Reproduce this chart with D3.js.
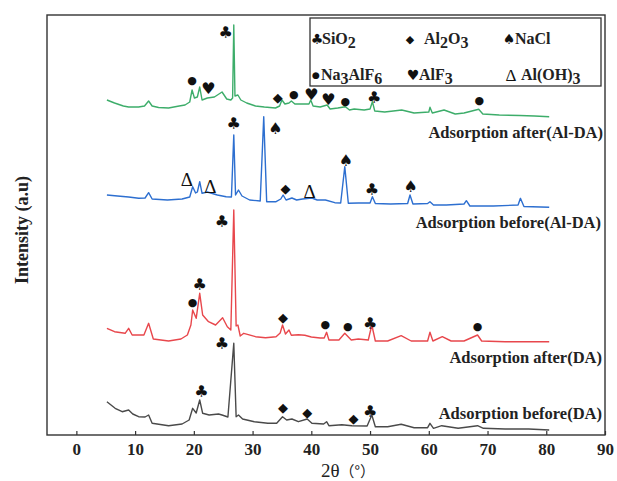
<!DOCTYPE html>
<html>
<head>
<meta charset="utf-8">
<script src="https://cdn.jsdelivr.net/npm/d3@7/dist/d3.min.js"></script>
<style>
  body { margin: 0; background: #fff; }
  svg text { font-family: "Liberation Serif", "Times New Roman", serif; }
</style>
</head>
<body>
<div id="chart"></div>
<script>
// 2theta, intensity (a.u., stacked offsets)
var greenData = [
  [5.2, 335], [6.5, 332], [8.0, 329], [8.9, 328], [10.6, 328], [11.6, 329], [12.3, 334], [12.9, 329],
  [14.0, 327.5], [15.7, 327], [17.5, 329], [18.5, 330], [19.3, 333], [19.7, 345], [20.1, 337], [20.6, 338],
  [21.0, 348], [21.4, 335], [22.3, 337], [23.5, 338], [24.8, 343], [25.6, 336], [26.3, 335], [26.6, 337],
  [26.8, 410], [27.0, 339], [27.5, 340], [28.0, 335], [29.0, 332], [30.5, 329], [32.0, 328], [33.9, 327],
  [34.6, 329], [35.0, 335], [35.5, 331], [36.2, 332], [36.6, 334], [37.2, 331], [38.4, 331], [39.6, 331],
  [39.9, 335], [40.3, 329], [41.5, 328], [42.7, 330], [43.2, 326], [44.5, 327], [45.8, 328.3], [46.5, 325],
  [47.3, 326], [49.0, 325], [50.0, 326], [50.4, 333.3], [50.8, 324], [52.5, 323], [55.4, 325], [57.5, 322],
  [60.0, 323], [60.2, 327.7], [60.6, 322], [62.6, 325], [64.5, 321], [66.0, 322], [68.5, 325.7], [69.2, 321],
  [72.0, 320], [75.5, 319.5], [78.0, 319], [80.5, 318.3]
];
var blueData = [
  [5.2, 240], [7.0, 239], [8.9, 238], [10.6, 236.7], [11.7, 237], [12.3, 242.3], [12.9, 236], [15.5, 235],
  [18.0, 236], [19.3, 238], [19.8, 248.3], [20.3, 242], [20.6, 243], [21.0, 253.3], [21.4, 241.7], [22.3, 243],
  [24.0, 240], [25.5, 238.3], [26.4, 238], [26.8, 300], [27.1, 240], [27.6, 245], [28.2, 239], [29.5, 235],
  [31.3, 234], [31.9, 318.3], [32.4, 233.3], [34.0, 233.3], [34.8, 236], [35.2, 240], [35.7, 235], [36.7, 237],
  [37.5, 235], [38.5, 236], [40.1, 237], [41.0, 235], [42.4, 235], [44.0, 232.3], [45.0, 232], [45.7, 268.3],
  [46.3, 231.7], [48.0, 232], [50.0, 232], [50.4, 238.3], [50.9, 231.5], [53.5, 231], [56.4, 231.5], [56.8, 240],
  [57.3, 231], [59.8, 231.5], [60.2, 233.3], [60.8, 230], [63.0, 230], [66.0, 231], [66.4, 234.3], [67.0, 229],
  [71.0, 229], [75.2, 230], [75.6, 236.7], [76.2, 228.5], [80.5, 227.7]
];
var redData = [
  [5.2, 106.7], [6.5, 103.3], [8.3, 101.7], [8.9, 106.7], [9.5, 100], [11.5, 100], [12.3, 111.7], [13.1, 96],
  [15.7, 94], [17.8, 96], [18.9, 100], [19.5, 110], [19.8, 125], [20.4, 116.7], [21.0, 141.7], [21.5, 120],
  [22.5, 113.3], [23.7, 110], [24.9, 117.3], [25.7, 108.3], [26.3, 105], [26.8, 225], [27.2, 109], [27.5, 110],
  [27.9, 99], [28.5, 101.7], [30.5, 98.3], [32.2, 97.3], [34.0, 98.3], [34.7, 102], [35.1, 110], [35.6, 101],
  [36.2, 105], [36.6, 99.7], [37.8, 100.3], [38.9, 99.7], [40.0, 98], [41.5, 97], [42.2, 97], [42.6, 102.7],
  [43.0, 95], [44.7, 95], [45.7, 101.7], [46.8, 95], [48.0, 96], [49.7, 95], [50.3, 110], [50.9, 94],
  [53.0, 94], [55.3, 99.3], [57.0, 94], [59.8, 94], [60.2, 102.7], [60.7, 94], [62.3, 98.3], [63.8, 94],
  [66.0, 94], [68.3, 100], [69.0, 94], [73.0, 93.3], [77.0, 93.3], [80.5, 93.3]
];
var blackData = [
  [5.2, 33.3], [6.6, 26.7], [7.8, 23.3], [8.9, 25], [9.6, 21], [10.6, 18.3], [11.7, 18], [12.3, 20],
  [12.9, 11.7], [15.7, 9.3], [18.0, 11], [19.2, 15], [19.8, 26.7], [20.4, 22], [21.0, 35], [21.5, 21.7],
  [22.6, 20], [24.2, 21], [24.8, 20], [25.8, 18], [26.8, 91.7], [27.2, 18.3], [27.6, 20], [28.3, 16],
  [30.3, 13.3], [32.6, 11.7], [34.1, 11.7], [35.1, 18.3], [35.8, 15], [36.7, 16], [37.8, 13.3], [39.3, 16],
  [40.1, 11.7], [42.1, 11], [42.6, 13.3], [43.0, 9.3], [45.2, 10.3], [46.9, 9.3], [49.5, 9], [50.3, 20],
  [50.9, 8.3], [53.0, 8.3], [55.3, 10.7], [57.5, 7.3], [59.8, 7.3], [60.2, 11.7], [60.8, 6.7], [62.2, 9.3],
  [65.0, 6.7], [68.3, 9.3], [69.3, 6.7], [73.0, 6], [77.0, 6], [80.5, 5]
];

// phase marks: symbol, 2theta, intensity
var greenMarks = [
  ["dot", 19.7, 355], ["heart", 22.5, 346.7], ["club", 25.4, 402.3], ["diamond", 34.3, 337.7],
  ["dot", 37.0, 341], ["heart", 40.0, 341], ["heart", 42.9, 335.7], ["dot", 45.8, 333.3],
  ["club", 50.7, 337.7], ["dot", 68.6, 335]
];
var blueMarks = [
  ["delta", 18.8, 255.7], ["delta", 22.8, 248.3], ["club", 26.8, 311.7], ["spade", 33.9, 306.7],
  ["diamond", 35.6, 246.7], ["delta", 39.7, 243.3], ["spade", 45.9, 274.3], ["club", 50.3, 245.7],
  ["spade", 56.9, 248.3]
];
var redMarks = [
  ["club", 24.8, 213.3], ["club", 21.0, 150.7], ["dot", 19.8, 132.7], ["diamond", 35.2, 117.3],
  ["dot", 42.4, 110.7], ["dot", 46.2, 109], ["club", 50.0, 111.7], ["dot", 68.3, 108.3]
];
var blackMarks = [
  ["club", 24.8, 91.7], ["club", 21.3, 43.3], ["diamond", 35.2, 27.3], ["diamond", 39.3, 22.7],
  ["diamond", 47.2, 16.7], ["club", 50.0, 24]
];

var seriesNames = ["Adsorption after(Al-DA)", "Adsorption before(Al-DA)", "Adsorption after(DA)", "Adsorption before(DA)"];
var seriesColors = ["#3dad6a", "#2d6fd0", "#e8474c", "#4a4a4a"];
var xTicks = [0, 10, 20, 30, 40, 50, 60, 70, 80, 90];

var W = 617, H = 481;
var margin = {top: 15, right: 12, bottom: 46, left: 47};

var svg = d3.select("#chart").append("svg")
    .attr("width", W)
    .attr("height", H);

var x = d3.scaleLinear().domain([-5, 90]).range([margin.left, W - margin.right]);
var y = d3.scaleLinear().domain([0, 420]).range([H - margin.bottom, margin.top]);

var line = d3.line()
    .x(function (d) { return x(d[0]); })
    .y(function (d) { return y(d[1]); });

var glyphs = {
  club: {t: "\u2663", size: 16, font: "DejaVu Sans"},
  spade: {t: "\u2660", size: 16, font: "DejaVu Sans"},
  heart: {t: "\u2665", size: 16, font: "DejaVu Sans"},
  diamond: {t: "\u25C6", size: 13, font: "DejaVu Sans"},
  dot: {t: "\u25CF", size: 11, font: "DejaVu Sans"},
  delta: {t: "\u0394", size: 19, font: "Liberation Serif"}
};

var allData = [greenData, blueData, redData, blackData];
var allMarks = [greenMarks, blueMarks, redMarks, blackMarks];

allData.forEach(function (data, i) {
  svg.append("path")
      .datum(data)
      .attr("fill", "none")
      .attr("stroke", seriesColors[i])
      .attr("stroke-width", 1.4)
      .attr("stroke-linejoin", "round")
      .attr("d", line);
});

allMarks.forEach(function (marks) {
  svg.append("g").selectAll("text")
      .data(marks)
      .enter().append("text")
      .attr("x", function (d) { return x(d[1]); })
      .attr("y", function (d) { return y(d[2]); })
      .attr("text-anchor", "middle")
      .attr("dominant-baseline", "central")
      .style("font-family", function (d) { return glyphs[d[0]].font; })
      .style("font-size", function (d) { return glyphs[d[0]].size + "px"; })
      .attr("fill", "#111")
      .text(function (d) { return glyphs[d[0]].t; });
});

// curve labels
var labelPos = [[603, 138], [601, 228], [602, 363], [602, 419]];
seriesNames.forEach(function (name, i) {
  svg.append("text")
      .attr("x", labelPos[i][0])
      .attr("y", labelPos[i][1])
      .attr("text-anchor", "end")
      .style("font-size", "16.5px")
      .style("font-weight", "bold")
      .attr("fill", "#222")
      .text(name);
});

// frame
svg.append("rect")
    .attr("x", margin.left)
    .attr("y", margin.top)
    .attr("width", W - margin.right - margin.left)
    .attr("height", H - margin.bottom - margin.top)
    .attr("fill", "none")
    .attr("stroke", "#333")
    .attr("stroke-width", 1.4);

var xAxis = svg.append("g")
    .attr("transform", "translate(0," + (H - margin.bottom) + ")")
    .call(d3.axisBottom(x).tickValues(xTicks).tickSize(-4).tickPadding(8));
xAxis.select(".domain").remove();
xAxis.selectAll("line").attr("stroke", "#333").attr("stroke-width", 1.2);
xAxis.selectAll("text")
    .style("font-family", "Liberation Serif")
    .style("font-size", "17px")
    .style("font-weight", "bold")
    .attr("fill", "#222");

var xTitle = svg.append("text")
    .attr("x", 348)
    .attr("y", 477)
    .attr("text-anchor", "middle")
    .style("font-size", "19px")
    .attr("fill", "#222");
xTitle.append("tspan").text("2\u03B8");
xTitle.append("tspan").style("font-family", "Noto Sans CJK SC").style("font-size", "15px").text("\uFF08\u00B0\uFF09");

svg.append("text")
    .attr("transform", "translate(28,230) rotate(-90)")
    .attr("text-anchor", "middle")
    .style("font-size", "18px")
    .style("font-weight", "bold")
    .attr("fill", "#222")
    .text("Intensity (a.u)");

// legend
var legend = svg.append("g");
legend.append("rect")
    .attr("x", 310).attr("y", 18)
    .attr("width", 291).attr("height", 68)
    .attr("fill", "#fff")
    .attr("stroke", "#333")
    .attr("stroke-width", 1.3);

var legendItems = [
  {g: "club", gx: 317, tx: 322, y: 44, parts: [["SiO", 0], ["2", 1]]},
  {g: "diamond", gx: 410, tx: 424, y: 44, parts: [["Al", 0], ["2", 1], ["O", 0], ["3", 1]]},
  {g: "spade", gx: 509, tx: 515, y: 44, parts: [["NaCl", 0]]},
  {g: "dot", gx: 316, tx: 321, y: 80, parts: [["Na", 0], ["3", 1], ["AlF", 0], ["6", 1]]},
  {g: "heart", gx: 413, tx: 419, y: 80, parts: [["AlF", 0], ["3", 1]]},
  {g: "delta", gx: 511, tx: 521, y: 80, parts: [["Al(OH)", 0], ["3", 1]]}
];
legendItems.forEach(function (it) {
  legend.append("text")
      .attr("x", it.gx)
      .attr("y", it.y - 5)
      .attr("text-anchor", "middle")
      .attr("dominant-baseline", "central")
      .style("font-family", glyphs[it.g].font)
      .style("font-size", (glyphs[it.g].size - 2) + "px")
      .attr("fill", "#111")
      .text(glyphs[it.g].t);
  var t = legend.append("text")
      .attr("x", it.tx)
      .attr("y", it.y)
      .style("font-size", "16px")
      .style("font-weight", "bold")
      .attr("fill", "#222");
  var prevSub = 0;
  it.parts.forEach(function (p) {
    var dy = (p[1] - prevSub) * 4;
    t.append("tspan").attr("dy", dy).text(p[0]);
    prevSub = p[1];
  });
});
</script>
</body>
</html>
